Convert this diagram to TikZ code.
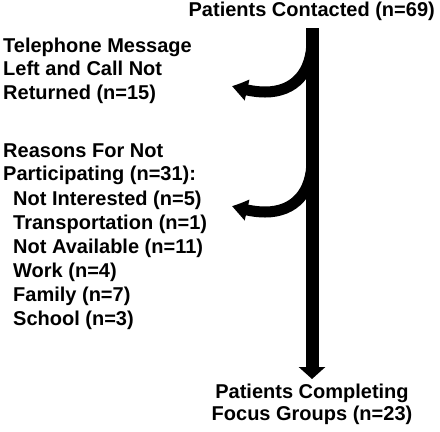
\documentclass[tikz,border=0pt]{standalone}
\usepackage{fontspec}
\setmainfont{Liberation Sans}
\usetikzlibrary{arrows.meta,bending}
\begin{document}
\begin{tikzpicture}[x=1bp,y=-1bp,
  txt/.style={font=\bfseries\fontsize{20bp}{23.5bp}\selectfont, inner sep=0pt},
  trunk/.style={line width=13bp, -{Triangle[width=26bp,length=12bp]}},
  branch/.style={line width=11bp, -{Triangle[width=20bp,length=16bp,bend]}}]
\useasboundingbox (0,0) rectangle (440,431);
% texts
\node[txt, anchor=base east] (top) at (435,16) {Patients Contacted (n=69)};
\node[txt, anchor=base west] (t1) at (3,52) {Telephone Message};
\node[txt, anchor=base west] (t2) at (3,75.5) {Left and Call Not};
\node[txt, anchor=base west] (t3) at (3,99) {Returned (n=15)};
\node[txt, anchor=base west] (r1) at (3,157) {Reasons For Not};
\node[txt, anchor=base west] (r2) at (3,180.5) {Participating (n=31):};
\node[txt, anchor=base west] (r3) at (13,205) {Not Interested (n=5)};
\node[txt, anchor=base west] (r4) at (13,229) {Transportation (n=1)};
\node[txt, anchor=base west] (r5) at (13,253) {Not Available (n=11)};
\node[txt, anchor=base west] (r6) at (13,277) {Work (n=4)};
\node[txt, anchor=base west] (r7) at (13,301) {Family (n=7)};
\node[txt, anchor=base west] (r8) at (13,325) {School (n=3)};
\node[txt, anchor=base] (b1) at (312,398) {Patients Completing};
\node[txt, anchor=base] (b2) at (312,420) {Focus Groups (n=23)};
% connectors
\coordinate (vtop) at (312,28);
\coordinate (vend) at (312,379);
\coordinate (a1s) at (312,40);
\coordinate (a1e) at (232,86);
\coordinate (a2s) at (312,160);
\coordinate (a2e) at (232,206);
\draw[trunk] (vtop) -- (vend);
\draw[branch] (a1s) .. controls (312,72) and (295,92) .. (265,92) .. controls (255,92) and (245,90) .. (a1e);
\draw[branch] (a2s) .. controls (312,192) and (295,212) .. (265,212) .. controls (255,212) and (245,210) .. (a2e);
\end{tikzpicture}
\end{document}
